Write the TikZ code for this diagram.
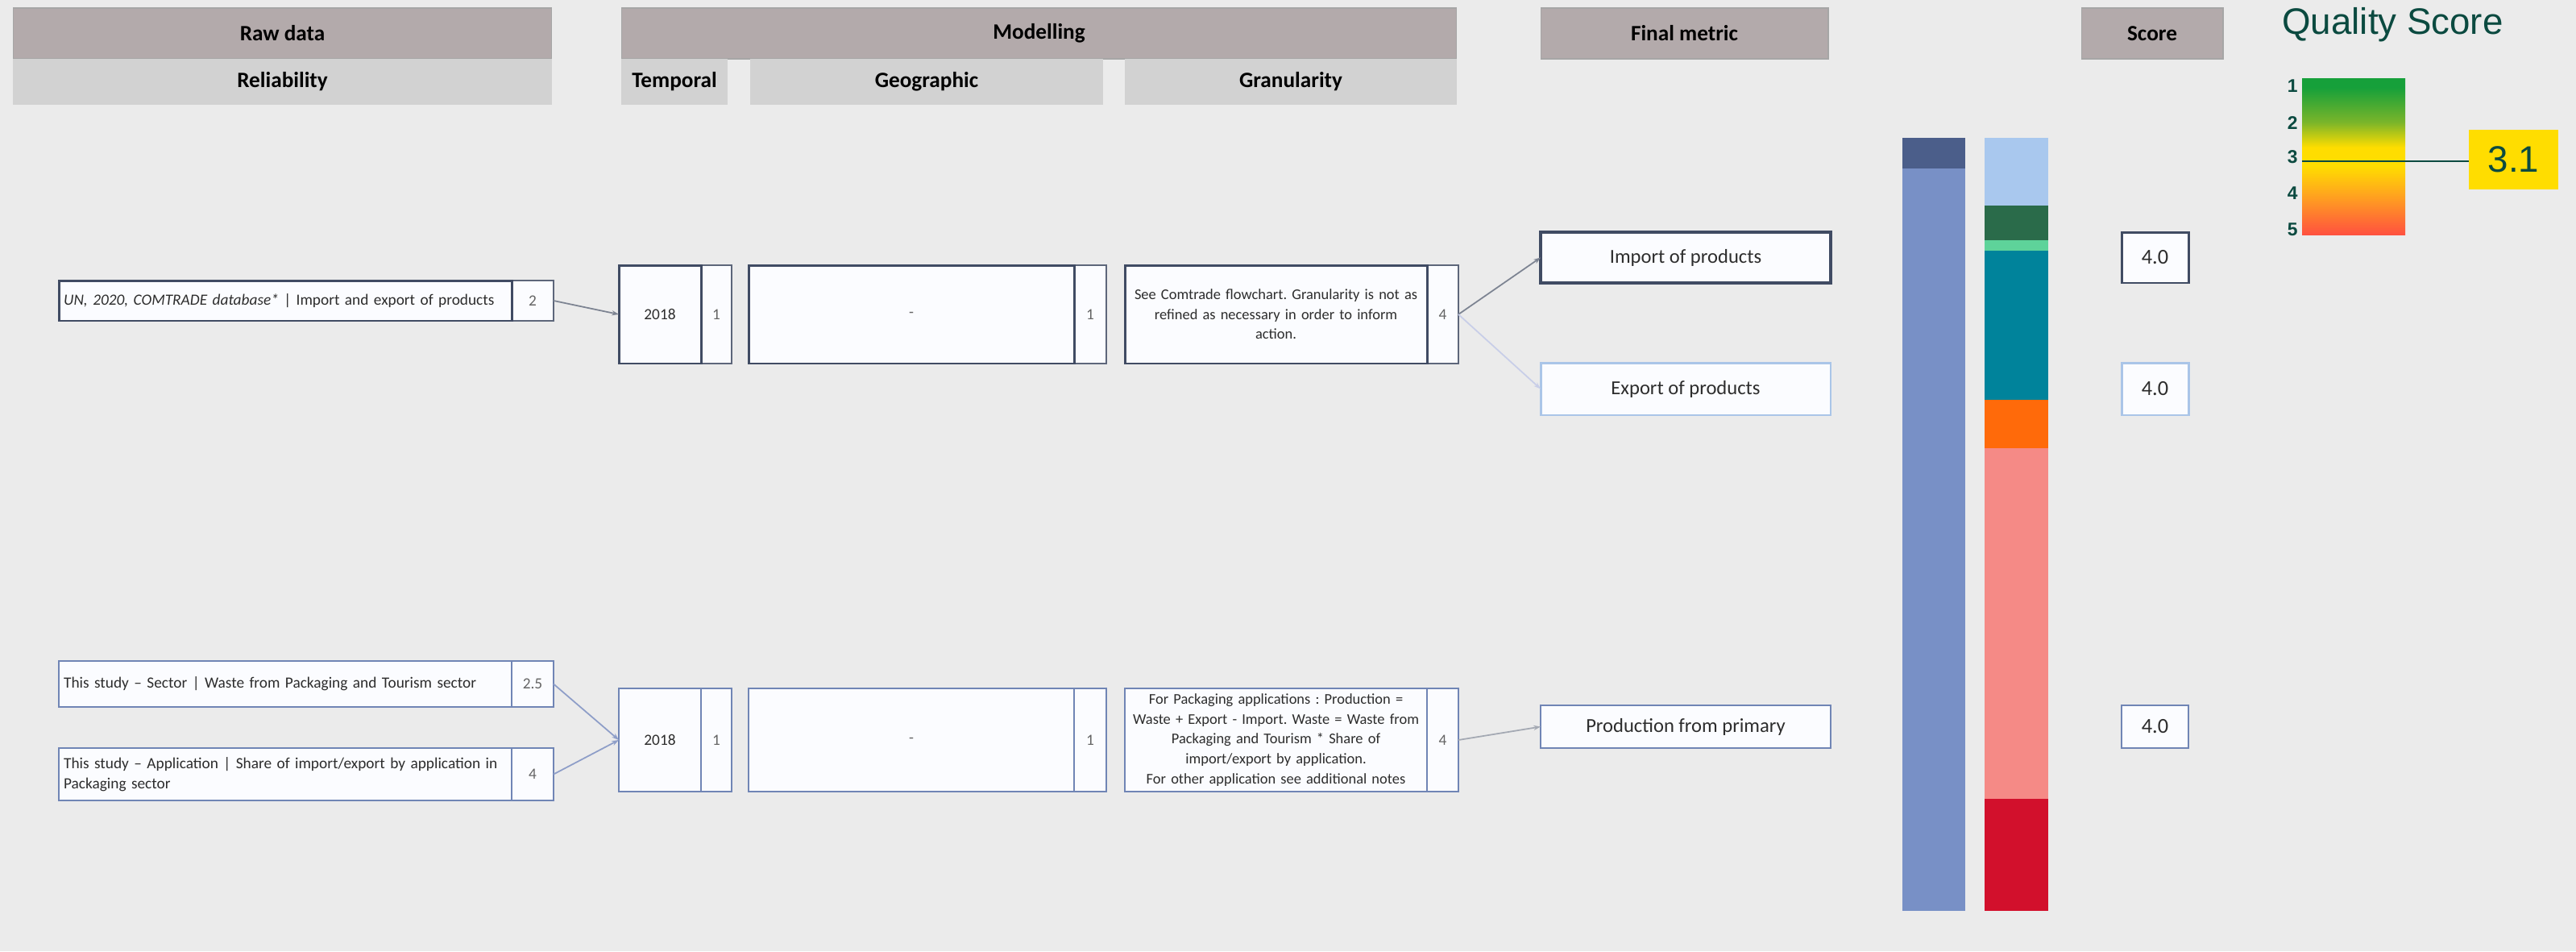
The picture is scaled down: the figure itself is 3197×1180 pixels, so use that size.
\documentclass[tikz,border=0pt]{standalone}
\usepackage{fontspec}
\setmainfont{Carlito}
\newfontfamily\qfont{Liberation Sans}
\usetikzlibrary{arrows.meta}
\definecolor{PageGray}  {RGB}{235, 235, 235}
\definecolor{HeadDark}  {RGB}{179, 170, 171}
\definecolor{HeadLight} {RGB}{210, 210, 210}
\definecolor{HeadRule}  {RGB}{166, 166, 166}
\definecolor{BoxFill}   {RGB}{251, 252, 255}
\definecolor{SlateNavy} {RGB}{64,   75,  99}
\definecolor{SteelBlue} {RGB}{112, 133, 181}
\definecolor{PaleBlue}  {RGB}{170, 197, 232}
\definecolor{LinkGray}  {RGB}{125, 132, 146}
\definecolor{LinkPale}  {RGB}{200, 206, 232}
\definecolor{LinkBlue}  {RGB}{142, 158, 200}
\definecolor{TextDark}  {RGB}{45,   45,  45}
\definecolor{TextGray}  {RGB}{100, 100, 100}
\definecolor{BarNavy}   {RGB}{75,   94, 138}
\definecolor{BarBlue}   {RGB}{120, 144, 198}
\definecolor{BarSky}    {RGB}{169, 200, 238}
\definecolor{BarForest} {RGB}{42,  107,  74}
\definecolor{BarMint}   {RGB}{94,  211, 154}
\definecolor{BarTeal}   {RGB}{0,   131, 155}
\definecolor{BarOrange} {RGB}{255, 106,  10}
\definecolor{BarSalmon} {RGB}{245, 138, 134}
\definecolor{BarRed}    {RGB}{210,  16,  44}
\definecolor{QText}     {RGB}{11,   74,  64}
\definecolor{QYellow}   {RGB}{255, 221,   0}
\definecolor{QGreen}    {RGB}{22,  160,  58}
\definecolor{QLime}     {RGB}{122, 181,  42}
\definecolor{QOrange}   {RGB}{255, 165,  30}
\definecolor{QRed}      {RGB}{255,  79,  64}
\pgfdeclareverticalshading{qscale}{100bp}{color(0bp)=(QRed); color(25bp)=(QRed);
  color(38bp)=(QOrange); color(47bp)=(QYellow); color(53bp)=(QYellow);
  color(61bp)=(QLime); color(72bp)=(QGreen); color(100bp)=(QGreen)}

\begin{document}
\frenchspacing
\begin{tikzpicture}[x=0.02cm, y=-0.02cm,
    hdr/.style={fill=HeadDark, draw=HeadRule, line width=0.6pt, inner sep=0pt, outer sep=0pt,
      minimum height=1.26cm, font=\fontsize{15.5}{18}\selectfont\bfseries},
    subhdr/.style={hdr, fill=HeadLight, draw=none, minimum height=1.14cm},
    box/.style={draw, fill=BoxFill, inner sep=0pt, outer sep=0pt, text=TextDark,
      font=\fontsize{11}{14.2}\selectfont},
    rowA/.style={box, draw=SlateNavy, line width=1.7pt},
    rowB/.style={box, draw=SteelBlue, line width=1.5pt},
    paleB/.style={box, draw=PaleBlue, line width=1.7pt},
    cellA/.style={box, draw=SlateNavy!85, line width=0.9pt, text=TextGray},
    cellB/.style={box, draw=SteelBlue, line width=0.9pt, text=TextGray},
    note/.style={text width=7.45cm, align=center,
      font=\fontsize{10.5}{14}\selectfont\hyphenpenalty10000\relax},
    metric/.style={font=\fontsize{14}{16}\selectfont, minimum width=7.2cm},
    scoreval/.style={font=\fontsize{15}{17}\selectfont, minimum width=1.66cm},
    link/.style={line width=1pt, -{Stealth[length=5pt, width=3.5pt]}},
    qnum/.style={font=\qfont\fontsize{13}{13}\selectfont\bfseries, text=QText, anchor=east, inner sep=0pt}
  ]
  \fill[PageGray] (0,0) rectangle (3197,1180);
  \useasboundingbox (0,0) rectangle (3197,1180);

  % column heads
  \node[hdr, minimum width=13.38cm] (hRaw) at (350.5,41.5) {Raw data};
  \node[subhdr, minimum width=13.38cm] (hRel) at (350.5,101.5) {Reliability};
  \node[hdr, minimum width=20.74cm] (hMod) at (1289.5,41.5) {Modelling};
  \node[subhdr, minimum width=2.64cm] (hTmp) at (837,101.5) {Temporal};
  \node[subhdr, minimum width=8.76cm] (hGeo) at (1150,101.5) {Geographic};
  \node[subhdr, minimum width=8.24cm] (hGra) at (1602,101.5) {Granularity};
  \node[hdr, minimum width=7.14cm] (hFin) at (2090.5,41.5) {Final metric};
  \node[hdr, minimum width=3.52cm] (hScore) at (2671,41.5) {Score};

  % first flow: trade data
  \node[cellA, minimum width=1.04cm, minimum height=1cm] (src1s) at (661,373) {2};
  \node[rowA, anchor=east, minimum width=11.24cm, minimum height=1cm, text width=11cm, align=left]
    (src1) at (src1s.west) {\textit{UN, 2020, COMTRADE database*} | Import and export of products};
  \node[cellA, minimum width=0.76cm, minimum height=2.44cm] (tmp1s) at (889,390) {1};
  \node[rowA, anchor=east, minimum width=2.04cm, minimum height=2.44cm] (tmp1) at (tmp1s.west) {2018};
  \node[cellA, minimum width=0.8cm, minimum height=2.44cm] (geo1s) at (1353,390) {1};
  \node[rowA, anchor=east, minimum width=8.08cm, minimum height=2.44cm, text=TextGray] (geo1) at (geo1s.west) {-};
  \node[cellA, minimum width=0.78cm, minimum height=2.44cm] (gra1s) at (1790.5,390) {4};
  \node[rowA, note, anchor=east, minimum width=7.5cm, minimum height=2.44cm]
    (gra1) at (gra1s.west) {See Comtrade flowchart. Granularity is not as\\refined as necessary in order to inform\\action.};
  \node[rowA, metric, line width=2pt, minimum height=1.26cm] (imp) at (2092,319.5) {Import of products};
  \node[paleB, metric, minimum height=1.3cm] (exp) at (2092,482.5) {Export of products};
  \node[rowA, scoreval, minimum height=1.26cm] (sc1) at (2674.5,319.5) {4.0};
  \node[paleB, scoreval, minimum height=1.3cm] (sc2) at (2674.5,482.5) {4.0};

  \draw[link, LinkGray] (src1s.east) -- (tmp1.west);
  \draw[link, LinkGray] (gra1s.east) -- (imp.west);
  \draw[link, LinkPale] (gra1s.east) -- (exp.west);

  % second flow: production
  \node[cellB, minimum width=1.04cm, minimum height=1.14cm] (src2as) at (661,848.5) {2.5};
  \node[rowB, anchor=east, minimum width=11.24cm, minimum height=1.14cm, text width=11cm, align=left]
    (src2a) at (src2as.west) {This study -- Sector | Waste from Packaging and Tourism sector};
  \node[cellB, minimum width=1.04cm, minimum height=1.3cm] (src2bs) at (661,960.5) {4};
  \node[rowB, anchor=east, minimum width=11.24cm, minimum height=1.3cm, text width=11cm, align=left]
    (src2b) at (src2bs.west) {This study -- Application | Share of import/export by application in\\Packaging sector};
  \node[cellB, minimum width=0.76cm, minimum height=2.56cm] (tmp2s) at (889,918) {1};
  \node[rowB, anchor=east, minimum width=2.04cm, minimum height=2.56cm] (tmp2) at (tmp2s.west) {2018};
  \node[cellB, minimum width=0.8cm, minimum height=2.56cm] (geo2s) at (1353,918) {1};
  \node[rowB, anchor=east, minimum width=8.08cm, minimum height=2.56cm, text=TextGray] (geo2) at (geo2s.west) {-};
  \node[cellB, minimum width=0.78cm, minimum height=2.56cm] (gra2s) at (1790.5,918) {4};
  \node[rowB, note, anchor=east, minimum width=7.5cm, minimum height=2.56cm]
    (gra2) at (gra2s.west) {For Packaging applications : Production =\\Waste + Export - Import. Waste = Waste from\\Packaging and Tourism * Share of\\import/export by application.\\For other application see additional notes};
  \node[rowB, metric, minimum height=1.06cm] (prod) at (2092,901.5) {Production from primary};
  \node[rowB, scoreval, minimum height=1.06cm] (sc3) at (2674.5,901.5) {4.0};

  \draw[link, LinkBlue] (src2as.east) -- (tmp2.west);
  \draw[link, LinkBlue] (src2bs.east) -- (tmp2.west);
  \draw[link, LinkGray!70] (gra2s.east) -- (prod.west);

  % stacked bars
  \fill[BarNavy] (2361,171) rectangle (2439,209);
  \fill[BarBlue] (2361,209) rectangle (2439,1130);
  \foreach \ya/\yb/\c in {171/255/BarSky, 255/298/BarForest, 298/311/BarMint, 311/496/BarTeal,
      496/556/BarOrange, 556/991/BarSalmon, 991/1130/BarRed}
    \fill[\c] (2463,\ya) rectangle (2542,\yb);

  % quality scale
  \node[anchor=base west, inner sep=0pt, text=QText, font=\qfont\fontsize{26}{26}\selectfont]
    (qTitle) at (2832,42) {Quality Score};
  \node[shading=qscale, inner sep=0pt, minimum width=2.56cm, minimum height=3.9cm] (qBar) at (2921,194.5) {};
  \foreach \v/\yy in {1/107, 2/153, 3/195, 4/240, 5/285}
    \node[qnum] (q\v) at (2852,\yy) {\v};
  \node[fill=QYellow, inner sep=0pt, minimum width=2.22cm, minimum height=1.48cm, text=QText,
    font=\qfont\fontsize{26}{26}\selectfont] (qVal) at (3119.5,198) {3.1};
  \coordinate (qMark) at (2857,200);
  \draw[QText, line width=1.5pt] (qMark) -- (qMark -| qVal.west);
\end{tikzpicture}
\end{document}
